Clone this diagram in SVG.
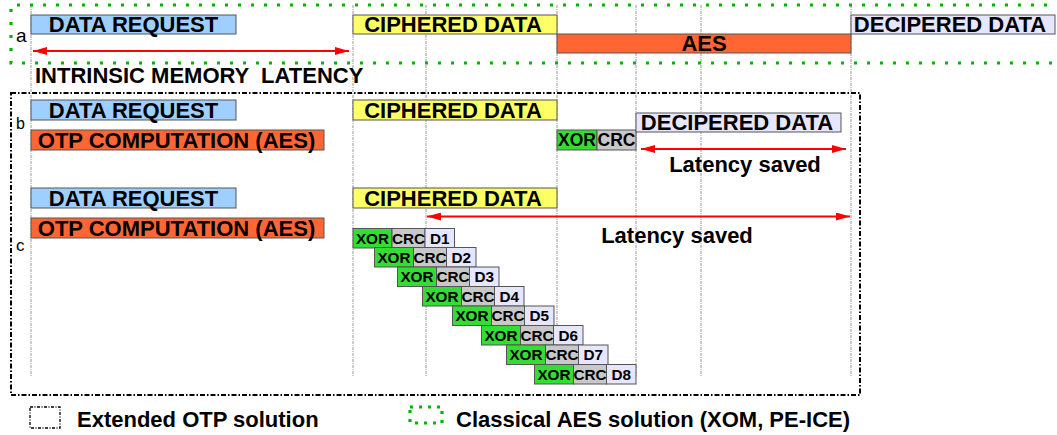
<svg xmlns="http://www.w3.org/2000/svg" width="1057" height="435" viewBox="0 0 1057 435">
<style>
text{font-family:"Liberation Sans",Arial,sans-serif;font-weight:bold;fill:#000;text-anchor:middle}
.lab{font-weight:normal;font-size:17px;text-anchor:start}
.big{font-size:22px}
.mid{font-size:17.5px}
.sm{font-size:15.3px}
.box{stroke:#555;stroke-width:1}
.req{fill:#9fcfff}
.cip{fill:#ffff66}
.aes{fill:#ff6633}
.dec{fill:#e6e6ff}
.xor{fill:#33dd33}
.crc{fill:#c8c8c8}
.guide{stroke:#999;stroke-width:1;stroke-dasharray:3 1 1 1;fill:none}
.green{fill:none;stroke:#00b400;stroke-width:3.2;stroke-dasharray:3 10}
.blk{fill:none;stroke:#000;stroke-width:2;stroke-dasharray:5 2 1.5 2}
.arr{stroke:#ff0000;stroke-width:2;fill:none;marker-start:url(#ah);marker-end:url(#ah)}
</style>
<defs>
<marker id="ah" markerUnits="userSpaceOnUse" markerWidth="14" markerHeight="8" refX="14" refY="4" orient="auto-start-reverse">
<path d="M0,0 L14,4 L0,8 z" fill="#ff0000"/>
</marker>
</defs>
<rect width="1057" height="435" fill="#fff"/>

<g id="guides">
<line class="guide" x1="31" y1="5" x2="31" y2="377"/>
<line class="guide" x1="353" y1="5" x2="353" y2="377"/>
<line class="guide" x1="426" y1="5" x2="426" y2="377"/>
<line class="guide" x1="557" y1="5" x2="557" y2="377"/>
<line class="guide" x1="636" y1="5" x2="636" y2="377"/>
<line class="guide" x1="701" y1="5" x2="701" y2="377"/>
<line class="guide" x1="851" y1="5" x2="851" y2="377"/>
</g>

<g id="frames">
<path class="green" d="M1060,5 H11 V63 H1060"/>
<rect class="blk" x="11" y="93" width="849" height="302"/>
</g>

<g id="row-a">
<text class="lab" x="16" y="42" style="font-size:19px">a</text>
<g id="a-request"><rect class="box req" x="31" y="15" width="205" height="19"/><text class="big" x="133.5" y="32.3">DATA REQUEST</text></g>
<g id="a-ciphered"><rect class="box cip" x="353" y="15" width="204" height="19"/><text class="big" x="453" y="32.3">CIPHERED DATA</text></g>
<g id="a-aes"><rect class="box aes" x="557" y="34" width="294" height="19"/><text class="big" x="704" y="51.3">AES</text></g>
<g id="a-deciphered"><rect class="box dec" x="851" y="15" width="204" height="19"/><text class="big" x="950" y="32.3">DECIPERED DATA</text></g>
<text class="big" x="35" y="83" style="text-anchor:start;white-space:pre" xml:space="preserve">INTRINSIC MEMORY  LATENCY</text>
</g>

<g id="row-b">
<text class="lab" x="16" y="129" style="font-size:16px">b</text>
<g id="b-request"><rect class="box req" x="31" y="100" width="205" height="20"/><text class="big" x="133.5" y="117.8">DATA REQUEST</text></g>
<g id="b-otp"><rect class="box aes" x="31" y="130" width="293" height="20"/><text class="big" x="176.5" y="147.8">OTP COMPUTATION (AES)</text></g>
<g id="b-ciphered"><rect class="box cip" x="353" y="100" width="204" height="20"/><text class="big" x="453" y="117.8">CIPHERED DATA</text></g>
<g id="b-xor"><rect class="box xor" x="557" y="130" width="40" height="20"/><text class="mid" x="577" y="146.2">XOR</text></g>
<g id="b-crc"><rect class="box crc" x="597" y="130" width="39" height="20"/><text class="mid" x="616.5" y="146.2">CRC</text></g>
<g id="b-deciphered"><rect class="box dec" x="636" y="113" width="205" height="19"/><text class="big" x="737" y="130.3">DECIPERED DATA</text></g>
<text class="big" x="745" y="172">Latency saved</text>
</g>

<g id="row-c">
<text class="lab" x="16" y="251">c</text>
<g id="c-request"><rect class="box req" x="31" y="188" width="205" height="20"/><text class="big" x="133.5" y="205.8">DATA REQUEST</text></g>
<g id="c-otp"><rect class="box aes" x="31" y="218" width="293" height="20"/><text class="big" x="176.5" y="235.8">OTP COMPUTATION (AES)</text></g>
<g id="c-ciphered"><rect class="box cip" x="353" y="188" width="204" height="20"/><text class="big" x="453" y="205.8">CIPHERED DATA</text></g>
<text class="big" x="677" y="243">Latency saved</text>
</g>

<g id="stair">
<g id="s1" transform="translate(353,228.5)"><rect class="box xor" width="39" height="19.5"/><rect class="box crc" x="39" width="33" height="19.5"/><rect class="box dec" x="72" width="29.5" height="19.5"/><text class="sm" x="19.5" y="15">XOR</text><text class="sm" x="55.5" y="15">CRC</text><text class="sm" x="86.7" y="15">D1</text></g>
<g id="s2" transform="translate(374.5,247.5)"><rect class="box xor" width="39" height="19.5"/><rect class="box crc" x="39" width="33" height="19.5"/><rect class="box dec" x="72" width="29.5" height="19.5"/><text class="sm" x="19.5" y="15">XOR</text><text class="sm" x="55.5" y="15">CRC</text><text class="sm" x="86.7" y="15">D2</text></g>
<g id="s3" transform="translate(397.5,267)"><rect class="box xor" width="39" height="19.5"/><rect class="box crc" x="39" width="33" height="19.5"/><rect class="box dec" x="72" width="29.5" height="19.5"/><text class="sm" x="19.5" y="15">XOR</text><text class="sm" x="55.5" y="15">CRC</text><text class="sm" x="86.7" y="15">D3</text></g>
<g id="s4" transform="translate(422.5,286.5)"><rect class="box xor" width="39" height="19.5"/><rect class="box crc" x="39" width="33" height="19.5"/><rect class="box dec" x="72" width="29.5" height="19.5"/><text class="sm" x="19.5" y="15">XOR</text><text class="sm" x="55.5" y="15">CRC</text><text class="sm" x="86.7" y="15">D4</text></g>
<g id="s5" transform="translate(452.5,306)"><rect class="box xor" width="39" height="19.5"/><rect class="box crc" x="39" width="33" height="19.5"/><rect class="box dec" x="72" width="29.5" height="19.5"/><text class="sm" x="19.5" y="15">XOR</text><text class="sm" x="55.5" y="15">CRC</text><text class="sm" x="86.7" y="15">D5</text></g>
<g id="s6" transform="translate(481.5,325.5)"><rect class="box xor" width="39" height="19.5"/><rect class="box crc" x="39" width="33" height="19.5"/><rect class="box dec" x="72" width="29.5" height="19.5"/><text class="sm" x="19.5" y="15">XOR</text><text class="sm" x="55.5" y="15">CRC</text><text class="sm" x="86.7" y="15">D6</text></g>
<g id="s7" transform="translate(506.5,345)"><rect class="box xor" width="39" height="19.5"/><rect class="box crc" x="39" width="33" height="19.5"/><rect class="box dec" x="72" width="29.5" height="19.5"/><text class="sm" x="19.5" y="15">XOR</text><text class="sm" x="55.5" y="15">CRC</text><text class="sm" x="86.7" y="15">D7</text></g>
<g id="s8" transform="translate(534.5,364.5)"><rect class="box xor" width="39" height="19.5"/><rect class="box crc" x="39" width="33" height="19.5"/><rect class="box dec" x="72" width="29.5" height="19.5"/><text class="sm" x="19.5" y="15">XOR</text><text class="sm" x="55.5" y="15">CRC</text><text class="sm" x="86.7" y="15">D8</text></g>
</g>

<g id="connectors">
<line class="arr" x1="33" y1="51" x2="349" y2="51"/>
<line class="arr" x1="641" y1="149" x2="846" y2="149"/>
<line class="arr" x1="427" y1="216.5" x2="850" y2="216.5"/>
</g>

<g id="legend">
<rect x="30" y="407" width="30" height="21" fill="none" stroke="#000" stroke-width="1.3" stroke-dasharray="3 1.5 1 1.5"/>
<text class="big" x="77" y="427" style="text-anchor:start">Extended OTP solution</text>
<rect class="green" x="410" y="407" width="32" height="16" style="stroke-dasharray:3 6"/>
<text class="big" x="456" y="427" style="text-anchor:start">Classical AES solution (XOM, PE-ICE)</text>
</g>
</svg>
